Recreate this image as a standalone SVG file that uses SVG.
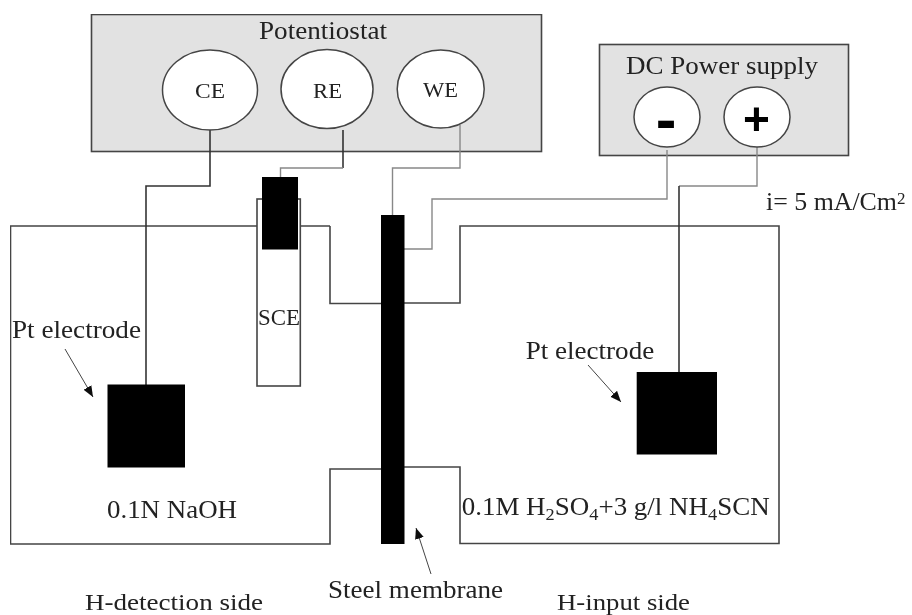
<svg xmlns="http://www.w3.org/2000/svg" width="912" height="615" viewBox="0 0 912 615">
<style>
text{font-family:"Liberation Serif","Times New Roman",serif;font-size:26px;fill:#222}
.box{fill:#e2e2e2;stroke:#444;stroke-width:1.6}
.port{fill:#fff;stroke:#444;stroke-width:1.5}
.tank{fill:none;stroke:#444;stroke-width:1.6}
.dark{fill:none;stroke:#333;stroke-width:1.6}
.grey{fill:none;stroke:#888;stroke-width:1.4}
.thin{fill:none;stroke:#444;stroke-width:1;marker-end:url(#ah)}
.solid{fill:#000}
.sym{font-family:"Liberation Sans",Arial,sans-serif;font-weight:bold;fill:#000;text-anchor:middle}
.sub{font-size:17px}
</style>
<defs>
<marker id="ah" markerUnits="userSpaceOnUse" markerWidth="12" markerHeight="10" refX="11" refY="4.5" orient="auto"><path d="M0 0L11 4.5L0 9Z" fill="#111"/></marker>
<filter id="soft" x="0" y="0" width="100%" height="100%"><feGaussianBlur stdDeviation="0.45"/></filter>
</defs>
<rect width="912" height="615" fill="#fff"/>
<g filter="url(#soft)">
<g id="potentiostat">
<rect class="box" x="91.5" y="14.5" width="450" height="137"/>
<text x="259" y="38.5" textLength="128" lengthAdjust="spacingAndGlyphs">Potentiostat</text>
</g>
<g id="dc-supply">
<rect class="box" x="599.5" y="44.5" width="249" height="111"/>
<text x="626" y="74" textLength="192" lengthAdjust="spacingAndGlyphs">DC Power supply</text>
</g>
<g id="left-tank"><path class="tank" d="M330 226H10.5V544H330V469H381M330 226V303.5H381"/></g>
<g id="right-tank"><path class="tank" d="M404 303H460V226H779V543.5H460V467H404"/></g>
<g id="connectors">
<path class="dark" d="M210 129V186H146V385"/>
<path class="dark" d="M343 130V168"/>
<path class="grey" d="M343 168H280.5V177"/>
<path class="grey" d="M460 125V168H392.5V215"/>
<path class="grey" d="M667 150V199H432V249H404"/>
<path class="grey" d="M757 147V186H679"/>
<path class="dark" d="M679 186V372"/>
<path class="thin" d="M65 349L93 397"/>
<path class="thin" d="M588 365L621 402"/>
<path class="thin" d="M431 574L416 528"/>
</g>
<g id="ce"><ellipse class="port" cx="210" cy="90" rx="47.5" ry="40"/><text x="195" y="98" textLength="30" lengthAdjust="spacingAndGlyphs" style="font-size:22px">CE</text></g>
<g id="re"><ellipse class="port" cx="327" cy="89" rx="46" ry="39.5"/><text x="313" y="98" textLength="29" lengthAdjust="spacingAndGlyphs" style="font-size:22px">RE</text></g>
<g id="we"><ellipse class="port" cx="440.7" cy="89" rx="43.5" ry="39"/><text x="423" y="97" textLength="35" lengthAdjust="spacingAndGlyphs" style="font-size:22px">WE</text></g>
<g id="minus"><ellipse class="port" cx="667" cy="117" rx="33" ry="30"/><text class="sym" x="666" y="139.5" style="font-size:62px">-</text></g>
<g id="plus"><ellipse class="port" cx="757" cy="117" rx="33" ry="30"/><text class="sym" x="756.5" y="134.5" style="font-size:46px">+</text></g>
<g id="sce">
<rect x="257" y="199" width="43.3" height="187" fill="#fff" stroke="#444" stroke-width="1.6"/>
<rect class="solid" x="262" y="177" width="36" height="72.5"/>
<text x="258" y="325" textLength="42" lengthAdjust="spacingAndGlyphs" style="font-size:23px">SCE</text>
</g>
<g id="membrane"><rect class="solid" x="381" y="215" width="23.5" height="329"/></g>
<g id="pt-left"><rect class="solid" x="107.5" y="384.5" width="77.5" height="83"/></g>
<g id="pt-right"><rect class="solid" x="636.7" y="372" width="80.3" height="82.5"/></g>
<g id="labels">
<text x="766" y="210" textLength="131" lengthAdjust="spacingAndGlyphs" style="font-size:25px">i= 5 mA/Cm</text>
<text x="897" y="204" style="font-size:17px">2</text>
<text x="12" y="338" textLength="129" lengthAdjust="spacingAndGlyphs">Pt electrode</text>
<text x="525.7" y="359" textLength="128.5" lengthAdjust="spacingAndGlyphs">Pt electrode</text>
<text x="107" y="518" textLength="130" lengthAdjust="spacingAndGlyphs">0.1N NaOH</text>
<text x="461.7" y="515" textLength="308" lengthAdjust="spacingAndGlyphs" style="font-size:25px">0.1M H<tspan class="sub" dy="5">2</tspan><tspan dy="-5">SO</tspan><tspan class="sub" dy="5">4</tspan><tspan dy="-5">+3 g/l NH</tspan><tspan class="sub" dy="5">4</tspan><tspan dy="-5">SCN</tspan></text>
<text x="328" y="598" textLength="175" lengthAdjust="spacingAndGlyphs">Steel membrane</text>
<text x="85" y="609.5" textLength="178" lengthAdjust="spacingAndGlyphs" style="font-size:24px">H-detection side</text>
<text x="557" y="609.5" textLength="133" lengthAdjust="spacingAndGlyphs" style="font-size:24px">H-input side</text>
</g>
</g>
</svg>
